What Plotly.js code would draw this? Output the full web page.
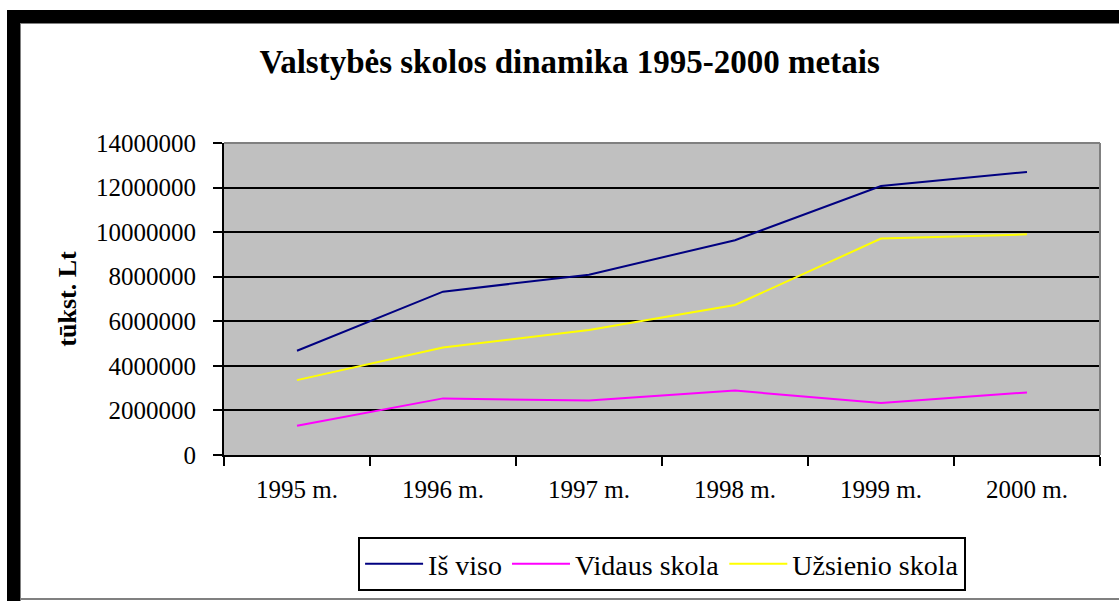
<!DOCTYPE html>
<html>
<head>
<meta charset="utf-8">
<script src="https://cdn.plot.ly/plotly-3.0.1.min.js"></script>
<style>
  html, body { margin: 0; padding: 0; background: #ffffff; }
  #wrap { position: relative; width: 1119px; height: 601px; overflow: hidden; }
  #chart { position: absolute; left: 0; top: 0; width: 1119px; height: 601px; }
  .bar { position: absolute; background: #000; }
  .thin { position: absolute; background: #808080; }
</style>
</head>
<body>
<div id="wrap">
  <div id="chart"></div>
  <div class="bar" style="left:7px; top:10px; width:1112px; height:13px;"></div>
  <div class="bar" style="left:7px; top:10px; width:13px; height:591px;"></div>
  <div class="thin" style="left:20px; top:23px; width:1099px; height:1px;"></div>
  <div class="thin" style="left:20px; top:23px; width:1px; height:578px;"></div>
  <div class="thin" style="left:20px; top:598px; width:1099px; height:2px;"></div>
</div>
<script>
const years = ["1995 m.", "1996 m.", "1997 m.", "1998 m.", "1999 m.", "2000 m."];
const isViso = [4680000, 7330000, 8090000, 9640000, 12070000, 12700000];
const vidausSkola = [1310000, 2540000, 2440000, 2890000, 2330000, 2810000];
const uzsienioSkola = [3360000, 4820000, 5610000, 6730000, 9710000, 9900000];
const yTicks = [0, 2000000, 4000000, 6000000, 8000000, 10000000, 12000000, 14000000];

const serif = "'Liberation Serif', 'Times New Roman', serif";

const traces = [
  {x: years, y: isViso, name: "Iš viso", type: "scatter", mode: "lines",
   line: {color: "#000080", width: 2}},
  {x: years, y: vidausSkola, name: "Vidaus skola", type: "scatter", mode: "lines",
   line: {color: "#ff00ff", width: 2}},
  {x: years, y: uzsienioSkola, name: "Užsienio skola", type: "scatter", mode: "lines",
   line: {color: "#ffff00", width: 2}}
];

const layout = {
  width: 1119, height: 601,
  margin: {l: 224, r: 19, t: 143, b: 146},
  paper_bgcolor: "#ffffff",
  plot_bgcolor: "#c0c0c0",
  font: {family: serif, color: "#000", size: 25},
  title: {
    text: "<b>Valstybės skolos dinamika 1995-2000 metais</b>",
    font: {family: serif, size: 33, color: "#000"},
    x: 0.509, xanchor: "center", xref: "container",
    y: 0.897, yanchor: "middle", yref: "container"
  },
  xaxis: {
    type: "category",
    categoryorder: "array", categoryarray: years,
    range: [-0.5, 5.5],
    showline: true, linecolor: "#000", linewidth: 2,
    ticks: "outside", tickson: "boundaries", ticklen: 9, tickwidth: 2, tickcolor: "#000",
    showgrid: false, zeroline: false,
    tickfont: {family: serif, size: 25, color: "#000"},
    ticklabelstandoff: 11,
    mirror: false
  },
  yaxis: {
    range: [0, 14000000],
    tickvals: yTicks,
    ticktext: yTicks.map(v => String(v)),
    showline: true, linecolor: "#000", linewidth: 2,
    ticks: "outside", ticklen: 9, tickwidth: 2, tickcolor: "#000",
    showgrid: true, gridcolor: "#000", gridwidth: 2,
    zeroline: false,
    tickfont: {family: serif, size: 25, color: "#000"},
    ticklabelstandoff: 12,
    title: {text: "<b>tūkst. Lt</b>", font: {family: serif, size: 26, color: "#000"}, standoff: 12}
  },
  showlegend: true,
  legend: {
    orientation: "h",
    xref: "container", yref: "container",
    x: 0.32, xanchor: "left",
    y: 0.1065, yanchor: "top",
    bgcolor: "#ffffff",
    bordercolor: "#000", borderwidth: 2,
    font: {family: serif, size: 28, color: "#000"},
    itemwidth: 58,
    traceorder: "normal"
  },
  shapes: [
    {type: "line", xref: "paper", yref: "paper", x0: 0, x1: 1, y0: 1, y1: 1,
     line: {color: "#808080", width: 2}},
    {type: "line", xref: "paper", yref: "paper", x0: 1, x1: 1, y0: 0, y1: 1,
     line: {color: "#808080", width: 2}}
  ]
};

Plotly.newPlot("chart", traces, layout, {displayModeBar: false, staticPlot: true});
</script>
</body>
</html>
